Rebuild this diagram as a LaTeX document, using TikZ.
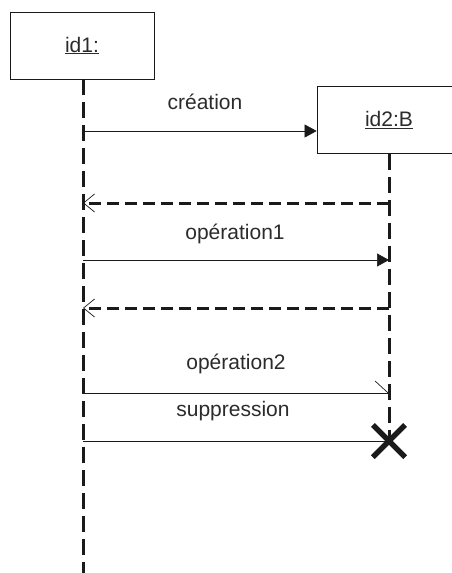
\documentclass[tikz,border=0pt]{standalone}
\usepackage{fontspec}
\setmainfont{Liberation Sans}
\usepackage{xcolor}
\usetikzlibrary{arrows.meta,shapes.misc}
\definecolor{seqInk}{HTML}{1A1A1A}
\definecolor{seqText}{HTML}{2B2B2B}
\tikzset{
  objbox/.style={draw=seqInk, line width=0.7pt, minimum width=144pt, minimum height=67pt, fill=white, font=\fontsize{21}{24}\selectfont, text=seqText},
  lifeline/.style={seqInk, line width=3pt, dash pattern=on 16pt off 7pt},
  callarr/.style={-{Triangle[length=12pt,width=13pt]}, seqInk, line width=0.6pt},
  retarr/.style={-{Straight Barb[length=11pt,width=18pt,line width=0.7pt]}, seqInk, line width=3pt, dash pattern=on 12pt off 6pt},
  asyncarr/.style={-{Straight Barb[left,length=13pt,width=24pt,line width=0.7pt]}, seqInk, line width=0.6pt},
  msglbl/.style={font=\fontsize{21}{24}\selectfont, text=seqText},
  killmark/.style={cross out, draw=seqInk, line width=5pt, minimum size=27pt, inner sep=0pt},
}
\begin{document}
\begin{tikzpicture}[x=1pt,y=-1pt]
  \useasboundingbox (0,0) rectangle (451,573);
  % objects
  \node[objbox] (id1) at (82,45.5) {\underline{id1:}};
  \node[objbox] (id2) at (389,120) {\underline{id2:B}};
  \node[killmark] (kill) at (389,441) {};
  \coordinate (end1) at (83,573);
  % lifelines
  \draw[lifeline] (83,79) -- (end1);
  \draw[lifeline] (id2.south) -- (kill.center);
  % points on the lifelines
  \coordinate (a1) at (83,131);
  \coordinate (a2) at (83,203);
  \coordinate (b2) at (389,203);
  \coordinate (a3) at (83,260);
  \coordinate (b3) at (389,260);
  \coordinate (a4) at (83,308);
  \coordinate (b4) at (389,308);
  \coordinate (a5) at (83,393);
  \coordinate (b5) at (389,393);
  \coordinate (a6) at (83,441);
  % messages
  \draw[callarr] (a1) -- (id2.west |- a1);
  \node[msglbl] (creation) at (205,102) {création};
  \draw[retarr] (b2) -- (a2);
  \draw[callarr] (a3) -- (b3);
  \node[msglbl] (op1) at (235,234) {opération1};
  \draw[retarr] (b4) -- (a4);
  \draw[asyncarr] (a5) -- (b5);
  \node[msglbl] (op2) at (236,364) {opération2};
  \draw[seqInk, line width=0.6pt] (a6) -- (kill.center);
  \node[msglbl] (supp) at (233,411) {suppression};
  \node[killmark] at (kill.center) {};
\end{tikzpicture}
\end{document}
